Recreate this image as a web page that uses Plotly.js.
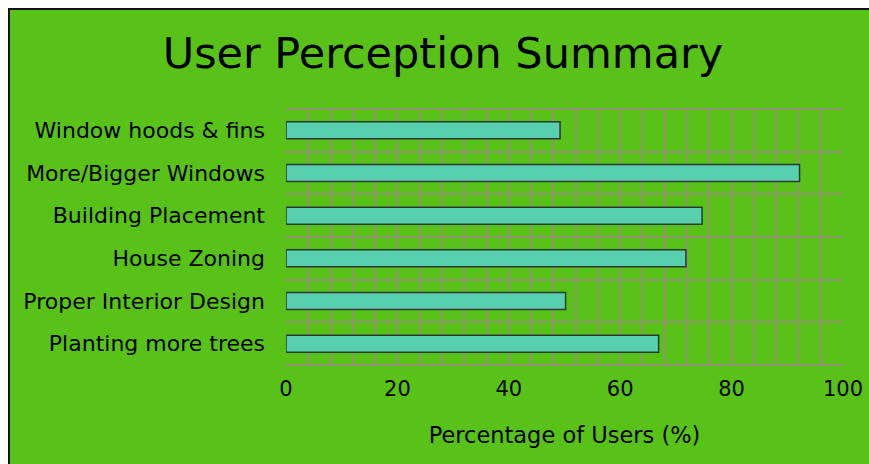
<!DOCTYPE html>
<html>
<head>
<meta charset="utf-8">
<script src="https://cdn.plot.ly/plotly-3.0.1.min.js"></script>
<style>
html,body{margin:0;padding:0;background:#fff;overflow:hidden;width:869px;height:464px;}
#wrap{position:absolute;left:8px;top:8px;border-left:2px solid #111;border-top:2px solid #111;width:859px;height:454px;background:#59c218;overflow:hidden;}
#chart{width:859px;height:455px;}
</style>
</head>
<body>
<div id="wrap"><div id="chart"></div></div>
<script>
const categories = ["Window hoods & fins","More/Bigger Windows","Building Placement","House Zoning","Proper Interior Design","Planting more trees"];
const values = [49.2, 92.2, 74.7, 71.8, 50.2, 66.9];
const gridStep = 4;
const labelStep = 20;
const xGridVals = Array.from({length: 26}, (_, i) => i * gridStep);
const xTickText = xGridVals.map(v => v % labelStep === 0 ? String(v) : "");

const FONT = "DejaVu Sans, Verdana, sans-serif";
const GRID = "#8f946e";

Plotly.newPlot("chart", [{
  type: "bar",
  orientation: "h",
  y: categories,
  x: values,
  width: 0.4,
  marker: {color: "#58cfae", line: {color: "#2a3a30", width: 1.5}},
  hoverinfo: "skip"
}], {
  width: 859, height: 455,
  margin: {l: 276, r: 26, t: 99, b: 100},
  paper_bgcolor: "#59c218",
  plot_bgcolor: "#59c218",
  showlegend: false,
  title: {text: "User Perception Summary", font: {family: FONT, size: 43, color: "#000"},
          x: 0.504, xanchor: "center", xref: "container", y: 0.905, yref: "container", yanchor: "middle"},
  xaxis: {
    range: [0, 100],
    tickmode: "array",
    tickvals: xGridVals,
    ticktext: xTickText,
    showgrid: true, gridcolor: GRID, gridwidth: 2,
    zeroline: false, showline: false, ticks: "",
    ticklabelstandoff: 9,
    tickfont: {family: FONT, size: 21, color: "#000"},
    title: {text: "Percentage of Users (%)", font: {family: FONT, size: 22.5, color: "#000"}, standoff: 27},
    automargin: false,
    fixedrange: true
  },
  yaxis: {
    type: "category",
    range: [5.5, -0.5],
    tickson: "boundaries",
    showgrid: true, gridcolor: GRID, gridwidth: 2,
    zeroline: false, showline: false, ticks: "",
    ticklabelstandoff: 20,
    tickfont: {family: FONT, size: 22, color: "#000"},
    automargin: false,
    fixedrange: true
  },
  shapes: [
    {type: "line", xref: "paper", yref: "paper", x0: 0, x1: 1, y0: 1, y1: 1, line: {color: GRID, width: 2}, layer: "below"},
    {type: "line", xref: "paper", yref: "paper", x0: 0, x1: 1, y0: 0, y1: 0, line: {color: GRID, width: 2}, layer: "below"}
  ]
}, {displayModeBar: false, staticPlot: true});
</script>
</body>
</html>
